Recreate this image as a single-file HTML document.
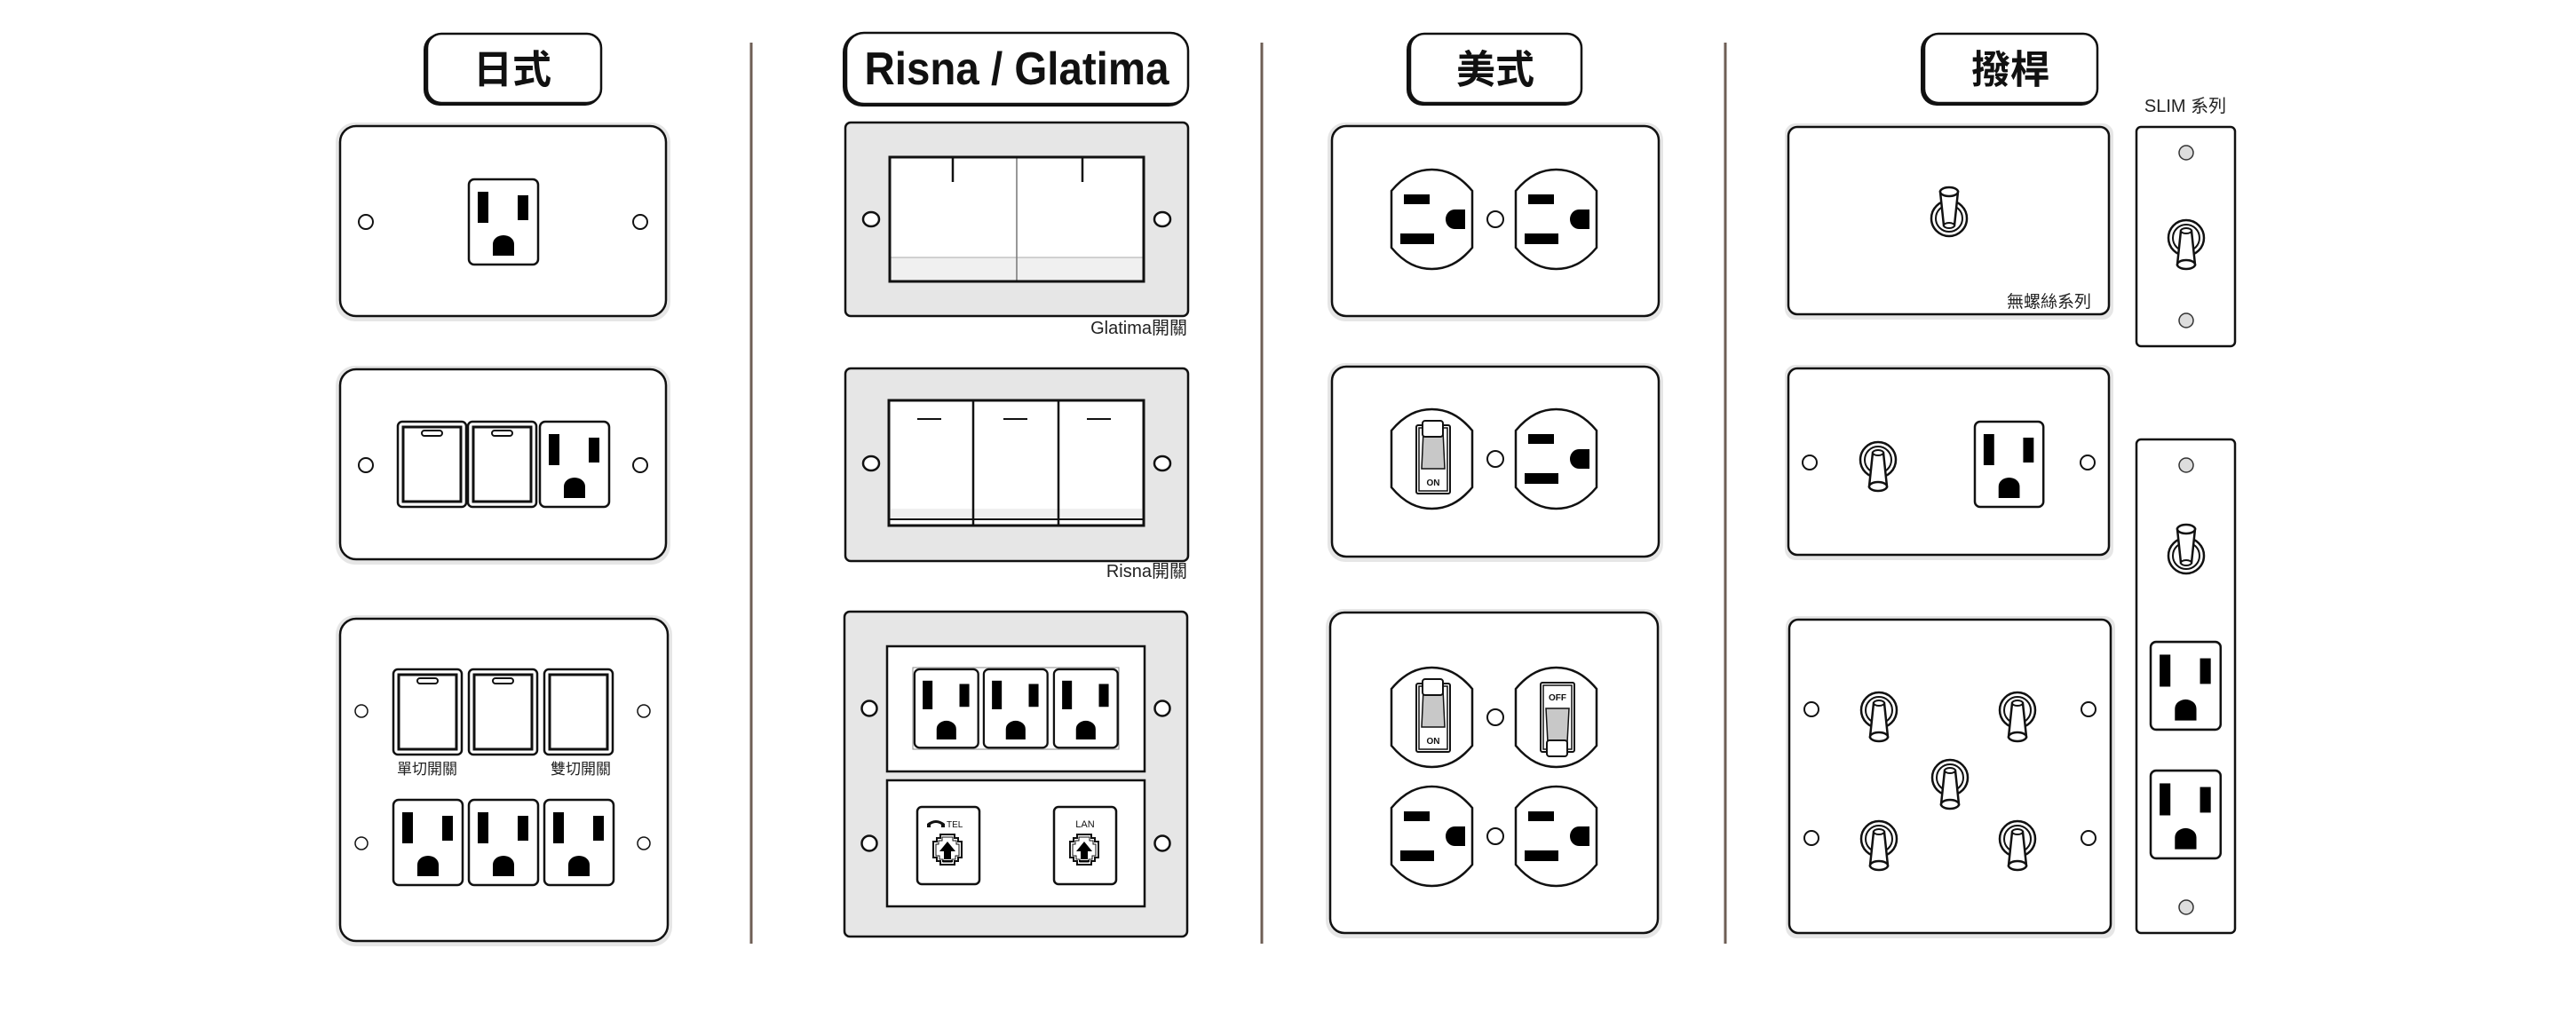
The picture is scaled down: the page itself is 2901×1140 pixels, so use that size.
<!DOCTYPE html>
<html><head><meta charset="utf-8"><style>
html,body{margin:0;padding:0;background:#fff;}
svg{display:block;}
text{font-family:"Liberation Sans","Noto Sans CJK TC",sans-serif;}
</style></head><body>
<svg width="2901" height="1140" viewBox="0 0 2901 1140" xmlns="http://www.w3.org/2000/svg">
<defs>
<g id="jo">
<rect x="1" y="1" width="78" height="96" rx="6" fill="#fff" stroke="#111" stroke-width="2.5"/>
<rect x="11" y="15" width="12" height="35" fill="#000"/>
<rect x="56" y="19" width="12" height="28" fill="#000"/>
<path d="M28,87 V74 a12,10 0 0 1 24,0 V87 Z" fill="#000"/>
</g>
<g id="sw0">
<rect x="1" y="1" width="77" height="96" rx="5" fill="#fff" stroke="#111" stroke-width="2.5"/>
<rect x="7" y="7" width="65" height="84" fill="#fff" stroke="#111" stroke-width="3"/>
</g>
<g id="sw">
<use href="#sw0"/>
<rect x="28" y="11" width="23" height="6" rx="3" fill="#fff" stroke="#111" stroke-width="2"/>
</g>
<path id="usb" d="M0,24 C15,6 30,0 45.5,0 C61,0 76,6 91,24 V88 C76,106 61,112 45.5,112 C30,112 15,106 0,88 Z" fill="#fff" stroke="#111" stroke-width="2.5"/>
<g id="us">
<use href="#usb"/>
<rect x="14" y="28" width="29" height="11" fill="#000"/>
<rect x="10" y="72" width="38" height="12" fill="#000"/>
<path d="M83,45 V67 H71 a10,11 0 0 1 0,-22 Z" fill="#000"/>
</g>
<g id="ron">
<use href="#usb"/>
<rect x="28" y="18" width="38" height="77" rx="2" fill="#fff" stroke="#111" stroke-width="2"/>
<rect x="31" y="21" width="32" height="71" fill="#fff" stroke="#111" stroke-width="1.5"/>
<path d="M36,24 H58 L60,67 H34 Z" fill="#c8c8c8" stroke="#111" stroke-width="1.5"/>
<rect x="35" y="13" width="23" height="18" rx="3" fill="#fff" stroke="#111" stroke-width="2"/>
<text x="47" y="86" font-size="10" font-weight="bold" text-anchor="middle" fill="#111">ON</text>
</g>
<g id="roff">
<use href="#usb"/>
<rect x="28" y="17" width="38" height="78" rx="2" fill="#fff" stroke="#111" stroke-width="2"/>
<rect x="31" y="20" width="32" height="72" fill="#fff" stroke="#111" stroke-width="1.5"/>
<path d="M34,46 H60 L58,84 H36 Z" fill="#c8c8c8" stroke="#111" stroke-width="1.5"/>
<rect x="35" y="82" width="23" height="18" rx="3" fill="#fff" stroke="#111" stroke-width="2"/>
<text x="47" y="37" font-size="10" font-weight="bold" text-anchor="middle" fill="#111">OFF</text>
</g>
<g id="togu">
<circle r="20" fill="#fff" stroke="#111" stroke-width="2.5"/>
<circle r="15" fill="#fff" stroke="#111" stroke-width="2"/>
<path d="M-6,8 L-10,-30 H10 L6,8 Z" fill="#fff" stroke="#111" stroke-width="2.5"/>
<ellipse cx="0" cy="8" rx="6" ry="3" fill="#fff" stroke="#111" stroke-width="2"/>
<ellipse cx="0" cy="-30" rx="10" ry="5" fill="#fff" stroke="#111" stroke-width="2.5"/>
</g>
<g id="togd"><use href="#togu" transform="scale(1,-1)"/></g>
<g id="jack">
<rect x="1" y="1" width="70" height="87" rx="5" fill="#fff" stroke="#111" stroke-width="2.5"/>
<path d="M27,32 H43 V36 H47 V40 H51 V58 H47 V62 H43 V66 H27 V62 H23 V58 H19 V40 H23 V36 H27 Z" fill="#fff" stroke="#111" stroke-width="2"/>
<path d="M29,35 H41 V39 H45 V43 H48 V56 H44 V60 H40 V63 H30 V60 H26 V56 H22 V43 H25 V39 H29 Z" fill="none" stroke="#111" stroke-width="1"/>
<polygon points="35,40 44,51 39,51 39,60 31,60 31,51 26,51" fill="#000"/>
<rect x="29" y="61" width="12" height="2" fill="#000"/>
</g>
</defs>

<!-- dividers -->
<g stroke="#6e5e55" stroke-width="3">
<line x1="846" y1="48" x2="846" y2="1063"/>
<line x1="1421" y1="48" x2="1421" y2="1063"/>
<line x1="1943" y1="48" x2="1943" y2="1063"/>
</g>

<!-- titles -->
<g>
<rect x="477" y="38" width="200" height="81" rx="18" fill="#111"/>
<rect x="481" y="38" width="196" height="78" rx="16" fill="#fff" stroke="#111" stroke-width="2.5"/>
<text x="577" y="79" font-size="44" font-weight="bold" text-anchor="middle" dominant-baseline="central" fill="#111">日式</text>
<rect x="949" y="37" width="389" height="83" rx="22" fill="#111"/>
<rect x="953" y="37" width="385" height="80" rx="20" fill="#fff" stroke="#111" stroke-width="2.5"/>
<text x="1145" y="78" font-size="52" font-weight="bold" text-anchor="middle" dominant-baseline="central" textLength="343" lengthAdjust="spacingAndGlyphs" fill="#111">Risna / Glatima</text>
<rect x="1584" y="38" width="197" height="81" rx="18" fill="#111"/>
<rect x="1588" y="38" width="193" height="78" rx="16" fill="#fff" stroke="#111" stroke-width="2.5"/>
<text x="1684" y="79" font-size="44" font-weight="bold" text-anchor="middle" dominant-baseline="central" fill="#111">美式</text>
<rect x="2163" y="38" width="199" height="81" rx="18" fill="#111"/>
<rect x="2167" y="38" width="195" height="78" rx="16" fill="#fff" stroke="#111" stroke-width="2.5"/>
<text x="2264" y="79" font-size="44" font-weight="bold" text-anchor="middle" dominant-baseline="central" fill="#111">撥桿</text>
</g>

<!-- Japanese column -->
<g>
<rect x="378" y="138" width="377" height="224" rx="22" fill="#e6e6e6"/>
<rect x="383" y="142" width="367" height="214" rx="18" fill="#fff" stroke="#111" stroke-width="2.5"/>
<use href="#jo" x="527" y="201"/>
<circle cx="412" cy="250" r="8" fill="#fff" stroke="#111" stroke-width="2"/>
<circle cx="721" cy="250" r="8" fill="#fff" stroke="#111" stroke-width="2"/>

<rect x="378" y="412" width="377" height="224" rx="22" fill="#e6e6e6"/>
<rect x="383" y="416" width="367" height="214" rx="18" fill="#fff" stroke="#111" stroke-width="2.5"/>
<use href="#sw" x="447" y="474"/>
<use href="#sw" x="526" y="474"/>
<use href="#jo" x="607" y="474"/>
<circle cx="412" cy="524" r="8" fill="#fff" stroke="#111" stroke-width="2"/>
<circle cx="721" cy="524" r="8" fill="#fff" stroke="#111" stroke-width="2"/>

<rect x="378" y="693" width="379" height="373" rx="22" fill="#e6e6e6"/>
<rect x="383" y="697" width="369" height="363" rx="18" fill="#fff" stroke="#111" stroke-width="2.5"/>
<use href="#sw" x="442" y="753"/>
<use href="#sw" x="527" y="753"/>
<use href="#sw0" x="612" y="753"/>
<text x="447" y="872" font-size="17" fill="#222">單切開關</text>
<text x="688" y="872" font-size="17" text-anchor="end" fill="#222">雙切開關</text>
<use href="#jo" x="442" y="900"/>
<use href="#jo" x="527" y="900"/>
<use href="#jo" x="612" y="900"/>
<circle cx="407" cy="801" r="7" fill="#fff" stroke="#111" stroke-width="1.5"/>
<circle cx="725" cy="801" r="7" fill="#fff" stroke="#111" stroke-width="1.5"/>
<circle cx="407" cy="950" r="7" fill="#fff" stroke="#111" stroke-width="1.5"/>
<circle cx="725" cy="950" r="7" fill="#fff" stroke="#111" stroke-width="1.5"/>
</g>

<!-- Risna column -->
<g>
<rect x="952" y="138" width="386" height="218" rx="6" fill="#e6e6e6" stroke="#111" stroke-width="2.5"/>
<rect x="1002" y="177" width="286" height="140" fill="#fff"/>
<rect x="1003" y="290" width="284" height="26" fill="#f0f0f0"/>
<line x1="1003" y1="290" x2="1287" y2="290" stroke="#aaa" stroke-width="1"/>
<line x1="1145" y1="177" x2="1145" y2="317" stroke="#777" stroke-width="1.5"/>
<rect x="1002" y="177" width="286" height="140" fill="none" stroke="#111" stroke-width="3"/>
<line x1="1073" y1="177" x2="1073" y2="205" stroke="#111" stroke-width="2.5"/>
<line x1="1219" y1="177" x2="1219" y2="205" stroke="#111" stroke-width="2.5"/>
<ellipse cx="981" cy="247" rx="9" ry="8" fill="#fff" stroke="#111" stroke-width="2.5"/>
<ellipse cx="1309" cy="247" rx="9" ry="8" fill="#fff" stroke="#111" stroke-width="2.5"/>
<text x="1337" y="376" font-size="20" text-anchor="end" fill="#222">Glatima開關</text>

<rect x="952" y="415" width="386" height="217" rx="6" fill="#e6e6e6" stroke="#111" stroke-width="2.5"/>
<rect x="1001" y="451" width="287" height="141" fill="#fff"/>
<rect x="1003" y="573" width="283" height="12" fill="#f0f0f0"/>
<line x1="1001" y1="585" x2="1288" y2="585" stroke="#111" stroke-width="2"/>
<line x1="1096" y1="451" x2="1096" y2="592" stroke="#111" stroke-width="2.5"/>
<line x1="1192" y1="451" x2="1192" y2="592" stroke="#111" stroke-width="2.5"/>
<rect x="1001" y="451" width="287" height="141" fill="none" stroke="#111" stroke-width="3"/>
<g stroke="#111" stroke-width="2">
<line x1="1033" y1="472" x2="1060" y2="472"/>
<line x1="1130" y1="472" x2="1157" y2="472"/>
<line x1="1224" y1="472" x2="1251" y2="472"/>
</g>
<ellipse cx="981" cy="522" rx="9" ry="8" fill="#fff" stroke="#111" stroke-width="2.5"/>
<ellipse cx="1309" cy="522" rx="9" ry="8" fill="#fff" stroke="#111" stroke-width="2.5"/>
<text x="1337" y="650" font-size="20" text-anchor="end" fill="#222">Risna開關</text>

<rect x="951" y="689" width="386" height="366" rx="6" fill="#e6e6e6" stroke="#111" stroke-width="2.5"/>
<rect x="999" y="728" width="290" height="141" fill="#fff" stroke="#111" stroke-width="2.5"/>
<rect x="999" y="879" width="290" height="142" fill="#fff" stroke="#111" stroke-width="2.5"/>
<rect x="1028" y="752" width="232" height="92" fill="none" stroke="#888" stroke-width="1"/>
<use href="#jo" transform="translate(1029,753) scale(0.92)"/>
<use href="#jo" transform="translate(1107,753) scale(0.92)"/>
<use href="#jo" transform="translate(1186,753) scale(0.92)"/>
<circle cx="979" cy="798" r="8.5" fill="#fff" stroke="#111" stroke-width="2.5"/>
<circle cx="1309" cy="798" r="8.5" fill="#fff" stroke="#111" stroke-width="2.5"/>
<circle cx="979" cy="950" r="8.5" fill="#fff" stroke="#111" stroke-width="2.5"/>
<circle cx="1309" cy="950" r="8.5" fill="#fff" stroke="#111" stroke-width="2.5"/>
<use href="#jack" x="1032" y="908"/>
<path d="M1044,932 v-4 q10,-8 20,0 v4 h-4 v-3 q-6,-4 -12,0 v3 Z" fill="#111"/>
<text x="1066" y="932" font-size="10" fill="#111">TEL</text>
<use href="#jack" x="1186" y="908"/>
<text x="1222" y="932" font-size="11" text-anchor="middle" fill="#111">LAN</text>
</g>

<!-- US column -->
<g>
<rect x="1495" y="138" width="378" height="224" rx="20" fill="#e6e6e6"/>
<rect x="1500" y="142" width="368" height="214" rx="16" fill="#fff" stroke="#111" stroke-width="2.5"/>
<use href="#us" x="1567" y="191"/>
<use href="#us" x="1707" y="191"/>
<circle cx="1684" cy="247" r="9" fill="#fff" stroke="#111" stroke-width="2"/>

<rect x="1495" y="409" width="378" height="224" rx="20" fill="#e6e6e6"/>
<rect x="1500" y="413" width="368" height="214" rx="16" fill="#fff" stroke="#111" stroke-width="2.5"/>
<use href="#ron" x="1567" y="461"/>
<use href="#us" x="1707" y="461"/>
<circle cx="1684" cy="517" r="9" fill="#fff" stroke="#111" stroke-width="2"/>

<rect x="1493" y="686" width="379" height="371" rx="20" fill="#e6e6e6"/>
<rect x="1498" y="690" width="369" height="361" rx="16" fill="#fff" stroke="#111" stroke-width="2.5"/>
<use href="#ron" x="1567" y="752"/>
<use href="#roff" x="1707" y="752"/>
<use href="#us" x="1567" y="886"/>
<use href="#us" x="1707" y="886"/>
<circle cx="1684" cy="808" r="9" fill="#fff" stroke="#111" stroke-width="2"/>
<circle cx="1684" cy="942" r="9" fill="#fff" stroke="#111" stroke-width="2"/>
</g>

<!-- Toggle column -->
<g>
<text x="2461" y="126" font-size="20" text-anchor="middle" fill="#222">SLIM 系列</text>

<rect x="2010" y="139" width="370" height="221" rx="12" fill="#e6e6e6"/>
<rect x="2014" y="143" width="361" height="211" rx="10" fill="#fff" stroke="#111" stroke-width="2.5"/>
<use href="#togu" x="2195" y="246"/>
<text x="2355" y="346" font-size="19" text-anchor="end" fill="#222">無螺絲系列</text>

<rect x="2406" y="143" width="111" height="247" rx="5" fill="#fff" stroke="#111" stroke-width="2.5"/>
<circle cx="2462" cy="172" r="8" fill="#ddd" stroke="#333" stroke-width="1.5"/>
<circle cx="2462" cy="361" r="8" fill="#ddd" stroke="#333" stroke-width="1.5"/>
<use href="#togd" x="2462" y="268"/>

<rect x="2010" y="411" width="370" height="220" rx="12" fill="#e6e6e6"/>
<rect x="2014" y="415" width="361" height="210" rx="10" fill="#fff" stroke="#111" stroke-width="2.5"/>
<circle cx="2038" cy="521" r="8" fill="#fff" stroke="#111" stroke-width="2"/>
<circle cx="2351" cy="521" r="8" fill="#fff" stroke="#111" stroke-width="2"/>
<use href="#togd" x="2115" y="518"/>
<use href="#jo" transform="translate(2223,474) scale(0.99,1)"/>

<rect x="2011" y="694" width="371" height="363" rx="12" fill="#e6e6e6"/>
<rect x="2015" y="698" width="362" height="353" rx="10" fill="#fff" stroke="#111" stroke-width="2.5"/>
<circle cx="2040" cy="799" r="8" fill="#fff" stroke="#111" stroke-width="2"/>
<circle cx="2352" cy="799" r="8" fill="#fff" stroke="#111" stroke-width="2"/>
<circle cx="2040" cy="944" r="8" fill="#fff" stroke="#111" stroke-width="2"/>
<circle cx="2352" cy="944" r="8" fill="#fff" stroke="#111" stroke-width="2"/>
<use href="#togd" x="2116" y="800"/>
<use href="#togd" x="2272" y="800"/>
<use href="#togd" x="2196" y="876"/>
<use href="#togd" x="2116" y="945"/>
<use href="#togd" x="2272" y="945"/>

<rect x="2406" y="495" width="111" height="556" rx="5" fill="#fff" stroke="#111" stroke-width="2.5"/>
<circle cx="2462" cy="524" r="8" fill="#ddd" stroke="#333" stroke-width="1.5"/>
<circle cx="2462" cy="1022" r="8" fill="#ddd" stroke="#333" stroke-width="1.5"/>
<use href="#togu" x="2462" y="626"/>
<use href="#jo" transform="translate(2421,722) scale(1.01,1.03)"/>
<use href="#jo" transform="translate(2421,867) scale(1.01,1.03)"/>
</g>
</svg>
</body></html>
